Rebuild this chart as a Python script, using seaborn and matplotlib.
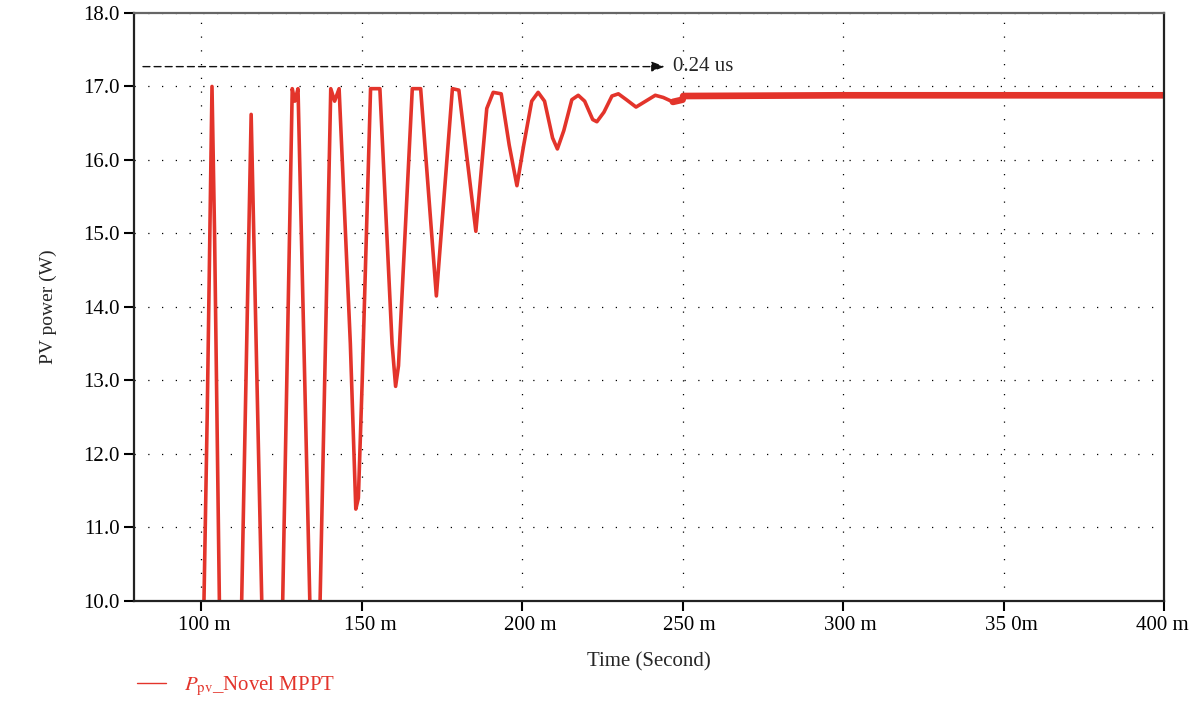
import numpy as np
import pandas as pd
import matplotlib
matplotlib.use("Agg")
import matplotlib.pyplot as plt
from matplotlib.transforms import ScaledTranslation
import seaborn as sns

# Waveform (time in ms, power in W)
time_ms = [100.5, 101.9, 103.4, 104.2, 106.0,
           112.2, 115.6, 119.4,
           125.0, 128.4, 129.2, 130.2, 134.4,
           136.6, 140.4, 141.6, 143.0, 146.5, 148.2, 149.0,
           150.2, 152.8, 155.7, 159.5, 160.6, 161.5,
           165.8, 168.4, 173.3,
           178.3, 180.3, 185.6,
           189.0, 191.0, 193.5, 196.0, 198.4, 200.5, 203.0,
           205.0, 207.0, 209.5, 211.0, 213.0, 215.5,
           217.5, 219.5, 222.0, 223.3, 225.5, 228.0,
           230.0, 232.5, 235.5, 238.5, 241.5, 244.0,
           247.0, 250.0, 250.2, 300.0, 400.0]
power_w = [9.0, 12.5, 17.0, 15.0, 9.0,
           9.0, 16.62, 9.0,
           9.0, 16.97, 16.8, 16.97, 9.0,
           9.0, 16.97, 16.8, 16.97, 13.5, 11.25, 11.4,
           13.0, 16.97, 16.97, 13.5, 12.92, 13.2,
           16.97, 16.97, 14.15,
           16.97, 16.95, 15.03,
           16.7, 16.92, 16.9, 16.2, 15.65, 16.2, 16.8,
           16.92, 16.8, 16.3, 16.15, 16.4, 16.82,
           16.88, 16.8, 16.55, 16.52, 16.65, 16.87,
           16.9, 16.82, 16.72, 16.8, 16.88, 16.85,
           16.79, 16.82, 16.87, 16.88, 16.88]

x_ticks = [100, 150, 200, 250, 300, 350, 400]
x_labels = ["100 m", "150 m", "200 m", "250 m", "300 m", "35 0m", "400 m"]
x_label_shift = [3, 9, 8, 7, 7, 8, -2]   # px, labels sit a bit off their ticks
y_ticks = [10, 11, 12, 13, 14, 15, 16, 17, 18]

arrow_y = 17.27
arrow_x0, arrow_x1 = 81.9, 244.5
arrow_text = "0.24 us"

red = "#e3342b"

sns.set_style("white")
plt.rcParams["font.family"] = ["Liberation Serif", "DejaVu Serif"]
plt.rcParams["mathtext.fontset"] = "stix"

df = pd.DataFrame({"t": time_ms, "p": power_w})
tail = df[df["t"] >= 247]

fig = plt.figure(figsize=(11.9, 7.01), dpi=100)
ax = fig.add_axes([0.1126, 0.1427, 0.8656, 0.8388])

sns.lineplot(data=df, x="t", y="p", ax=ax, color=red, lw=2.6,
             sort=False, legend=False)
# the settled part of the trace is a noisy band, drawn thicker
sns.lineplot(data=tail, x="t", y="p", ax=ax, color=red, lw=4.8,
             sort=False, legend=False)

ax.set_xlim(79.1, 400)
ax.set_ylim(10, 18)
ax.set_xticks(x_ticks)
ax.set_xticklabels(x_labels)
ax.set_yticks(y_ticks)
ax.set_yticklabels([f"{v:.1f}" for v in y_ticks])
ax.tick_params(axis="both", direction="out", length=7, width=1.5,
               labelsize=15, colors="black", left=True, bottom=True)
ax.tick_params(axis="x", pad=4)
for lab, dx in zip(ax.get_xticklabels(), x_label_shift):
    off = ScaledTranslation(dx / 100, 0, fig.dpi_scale_trans)
    lab.set_transform(lab.get_transform() + off)

ax.grid(True, color="black", linestyle=(0, (1, 10)), linewidth=0.9)

for s in ["left", "bottom", "right"]:
    ax.spines[s].set_color("#222222")
    ax.spines[s].set_linewidth(1.6)
ax.spines["top"].set_color("#666666")
ax.spines["top"].set_linewidth(1.6)

ax.set_xlabel("Time (Second)", fontsize=15, labelpad=12)
ax.set_ylabel("PV power (W)", fontsize=14, labelpad=19)

# dashed arrow marking the settling time
ax.annotate("", xy=(arrow_x1, arrow_y), xytext=(arrow_x0, arrow_y),
            arrowprops=dict(arrowstyle="-|>,head_length=0.8,head_width=0.3",
                            color="#111111", lw=1.0, linestyle=(0, (5, 3)),
                            shrinkA=0, shrinkB=0))
ax.text(arrow_x1 + 2.4, arrow_y, arrow_text, fontsize=15, va="center", ha="left")

line = plt.Line2D([], [], color=red, lw=1.0)
leg = fig.legend([line], [r"$P_{\mathrm{pv}}$_Novel MPPT"], loc="center left",
                 bbox_to_anchor=(0.099, 0.021), frameon=False, fontsize=15,
                 handlelength=1.4, handletextpad=0.9)
for t in leg.get_texts():
    t.set_color(red)

fig.savefig("out.png", dpi=100)
